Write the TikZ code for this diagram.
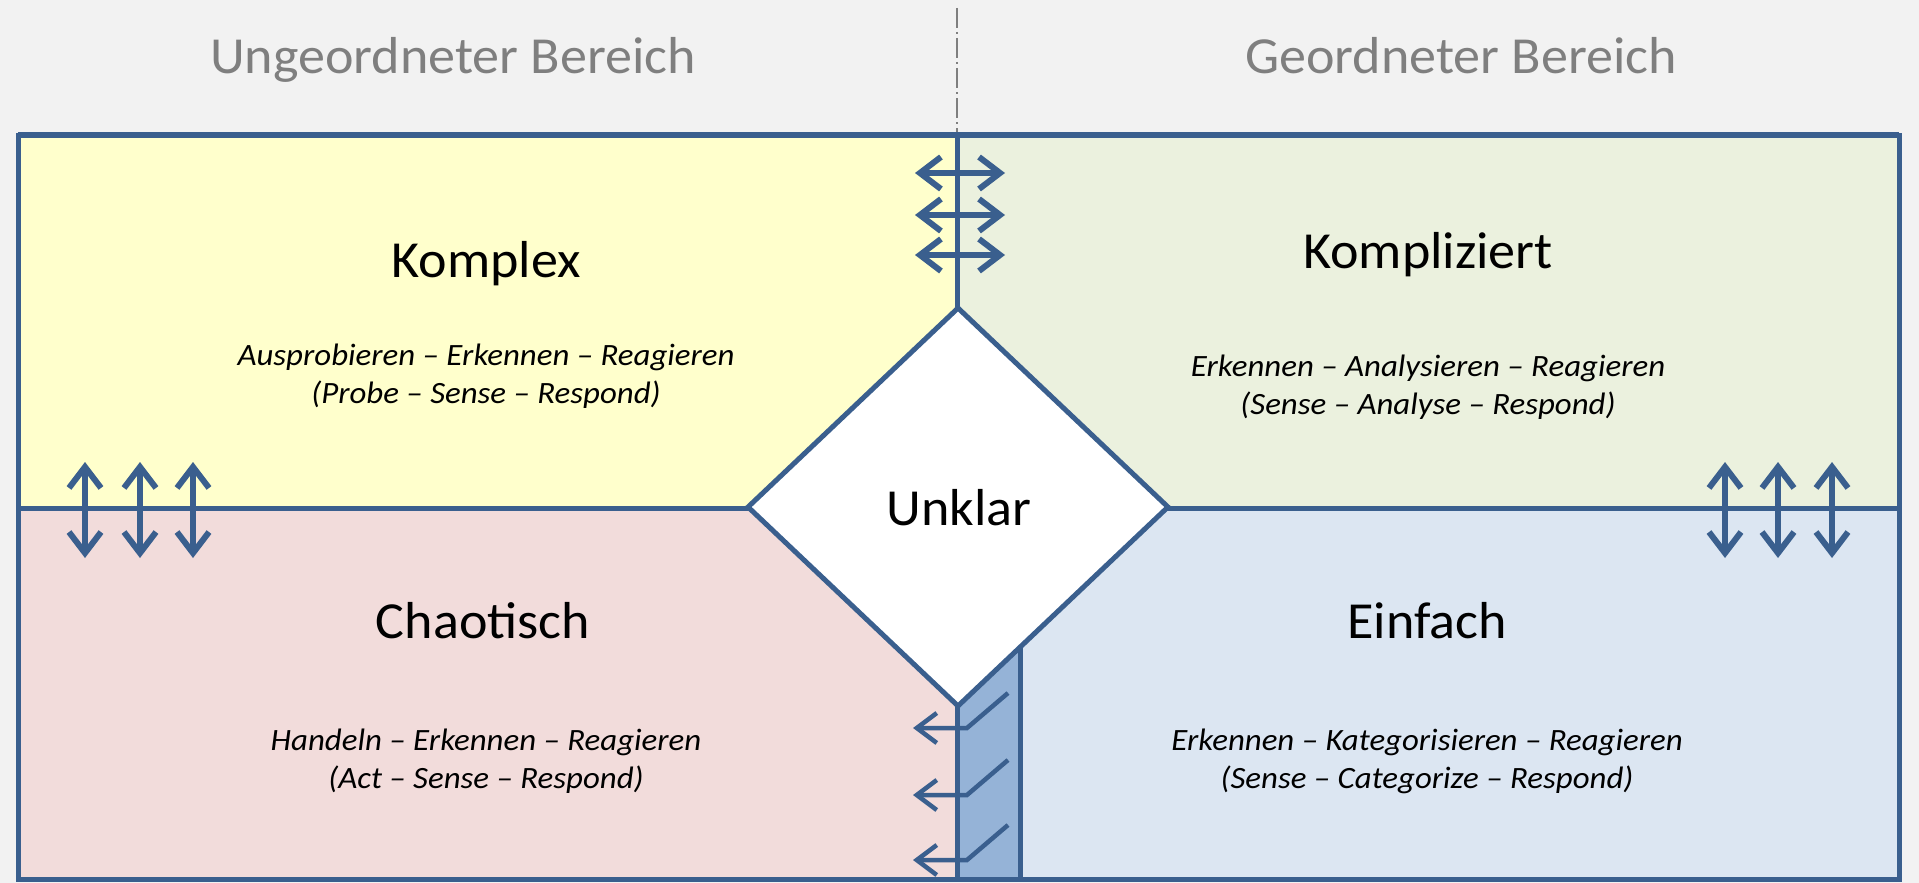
\documentclass[tikz,border=0pt]{standalone}
\usepackage{fontspec}
\setmainfont{Carlito}[FakeStretch=1.04]
\newfontfamily\subfam{Carlito}[FakeStretch=1.06]
\usetikzlibrary{arrows.meta,shapes.geometric}
\definecolor{bord}{HTML}{3A5F8E}
\definecolor{hdrbg}{HTML}{F2F2F2}
\definecolor{hdrtxt}{HTML}{7F7F7F}
\definecolor{ylw}{HTML}{FFFFCC}
\definecolor{grn}{HTML}{EBF1DE}
\definecolor{pnk}{HTML}{F2DCDB}
\definecolor{blu}{HTML}{DCE6F2}
\definecolor{strip}{HTML}{95B3D7}
\tikzset{
  hdr/.style={text=hdrtxt, anchor=base, font=\fontsize{52}{60}\selectfont},
  ttl/.style={anchor=base, font=\fontsize{52}{60}\selectfont},
  sub/.style={anchor=base, font=\subfam\itshape\fontsize{31}{38}\selectfont},
  frame/.style={draw=bord, line width=5},
  dbl/.style={draw=bord, line width=6, {Straight Barb[length=21,width=32]}-{Straight Barb[length=21,width=32]}},
  bent/.style={draw=bord, line width=4.5, -{Straight Barb[length=20,width=30]}},
}
\begin{document}
\begin{tikzpicture}[x=1pt,y=-1pt]
\useasboundingbox (0,0) rectangle (1919,883);
\fill[hdrbg] (0,0) rectangle (1919,883);
% quadrants
\fill[ylw] (18,135) rectangle (957,508);
\fill[grn] (957,135) rectangle (1899,508);
\fill[pnk] (18,508) rectangle (957,879);
\fill[blu] (957,508) rectangle (1899,879);
\fill[strip] (957,707) -- (1020,648) -- (1020,879) -- (957,879) -- cycle;
% header divider
\draw[hdrtxt, line width=1.2, dash pattern=on 20pt off 4pt on 2pt off 4pt] (957,8) -- (957,135);
% lines
\draw[frame] (957,135) -- (957,879);
\draw[frame] (18,508) -- (1899,508);
\draw[frame] (18,135) rectangle (1899,879);
\draw[draw=bord, line width=6] (18,135) -- (1899,135);
% diamond
\node[diamond, draw=bord, fill=white, line width=5, minimum width=422, minimum height=400, inner sep=0] (dia) at (958,507) {};
\node[ttl] (unklar) at (959,525) {Unklar};
\draw[frame] (1020,648) -- (1020,879);
% header texts
\node[hdr] (ung) at (453,74) {Ungeordneter Bereich};
\node[hdr] (geo) at (1461,74) {Geordneter Bereich};
% titles
\node[ttl] (komplex) at (486,277) {Komplex};
\node[ttl] (kompliziert) at (1428,268) {Kompliziert};
\node[ttl] (chaotisch) at (483,638) {Chaotisch};
\node[ttl] (einfach) at (1427,638) {Einfach};
% subtexts
\node[sub] (ks1) at (486,365) {Ausprobieren – Erkennen – Reagieren};
\node[sub] (ks2) at (486,403) {(Probe – Sense – Respond)};
\node[sub] (kz1) at (1428,376) {Erkennen – Analysieren – Reagieren};
\node[sub] (kz2) at (1428,414) {(Sense – Analyse – Respond)};
\node[sub] (ch1) at (486,750) {Handeln – Erkennen – Reagieren};
\node[sub] (ch2) at (486,788) {(Act – Sense – Respond)};
\node[sub] (ei1) at (1427,750) {Erkennen – Kategorisieren – Reagieren};
\node[sub] (ei2) at (1427,788) {(Sense – Categorize – Respond)};
% horizontal double arrows
\foreach \y [count=\i] in {173,215,255}{
  \coordinate (hl\i) at (915,\y); \coordinate (hr\i) at (1005,\y);
  \draw[dbl] (hl\i) -- (hr\i);
}
% vertical double arrows
\foreach \x [count=\i] in {85,140,193,1725,1778,1832}{
  \coordinate (vt\i) at (\x,462); \coordinate (vb\i) at (\x,558);
  \draw[dbl] (vt\i) -- (vb\i);
}
% bent arrows in strip
\foreach \y [count=\i] in {728,795,860}{
  \coordinate (bs\i) at (1008,\y-35); \coordinate (bm\i) at (967,\y); \coordinate (be\i) at (913,\y);
  \draw[bent] (bs\i) -- (bm\i) -- (be\i);
}
\end{tikzpicture}
\end{document}
